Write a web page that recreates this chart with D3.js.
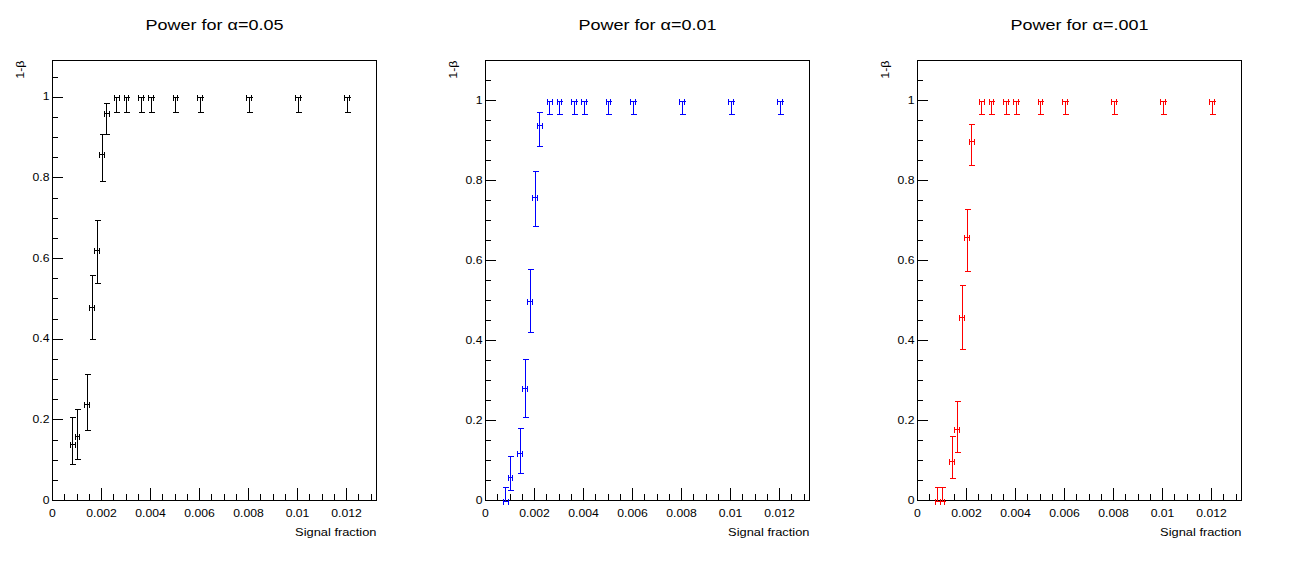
<!DOCTYPE html>
<html><head><meta charset="utf-8">
<script src="https://cdn.jsdelivr.net/npm/d3@7"></script>
<style>
body{margin:0;background:#fff;}
svg{display:block;}
text{font-family:'Liberation Sans',Arial,Helvetica,sans-serif;fill:#000;}
</style></head><body>
<svg id="chart" width="1297" height="563"></svg>
<script>
// ---- data ----
const xValues = [0.0008, 0.001, 0.0014, 0.0016, 0.0018, 0.002, 0.0022, 0.0026, 0.003, 0.0036, 0.004, 0.005, 0.006, 0.008, 0.01, 0.012];
const xError = 0.0001;

const power05   = [0.14, 0.16, 0.24, 0.48, 0.62, 0.86, 0.96, 1, 1, 1, 1, 1, 1, 1, 1, 1];
const power05Hi = [0.066, 0.068, 0.074, 0.078, 0.075, 0.048, 0.025, 0, 0, 0, 0, 0, 0, 0, 0, 0];
const power05Lo = [0.050, 0.056, 0.064, 0.080, 0.081, 0.068, 0.052, 0.037, 0.037, 0.037, 0.037, 0.037, 0.037, 0.037, 0.037, 0.037];

const power01   = [0, 0.06, 0.12, 0.28, 0.50, 0.76, 0.94, 1, 1, 1, 1, 1, 1, 1, 1, 1];
const power01Hi = [0.034, 0.052, 0.062, 0.074, 0.078, 0.063, 0.032, 0, 0, 0, 0, 0, 0, 0, 0, 0];
const power01Lo = [0, 0.034, 0.050, 0.070, 0.079, 0.074, 0.054, 0.034, 0.034, 0.034, 0.034, 0.034, 0.034, 0.034, 0.034, 0.034];

const power001   = [0, 0, 0.10, 0.18, 0.46, 0.66, 0.90, 1, 1, 1, 1, 1, 1, 1, 1, 1];
const power001Hi = [0.033, 0.033, 0.061, 0.069, 0.080, 0.070, 0.0425, 0, 0, 0, 0, 0, 0, 0, 0, 0];
const power001Lo = [0, 0, 0.045, 0.058, 0.080, 0.085, 0.062, 0.034, 0.034, 0.034, 0.034, 0.034, 0.034, 0.034, 0.034, 0.034];

const titles = ["Power for \u03b1=0.05", "Power for \u03b1=0.01", "Power for \u03b1=.001"];
const colors = ["#000000", "#0000ff", "#ff0000"];
const yMaxes = [1.091, 1.1, 1.1];
const xMax = 0.013224;
const xTickLabels = [0, 0.002, 0.004, 0.006, 0.008, 0.01, 0.012];
const yTickLabels = [0, 0.2, 0.4, 0.6, 0.8, 1];
const xTitle = "Signal fraction";
const yTitle = "1-\u03b2";

// ---- layout ----
const panelLeft = [52.5, 485.5, 917.5];
const frameW = 324, frameTop = 60.5, frameBottom = 500.5;
const sx = 1.22; // horizontal text stretch

const panels = [
  {y: power05, hi: power05Hi, lo: power05Lo},
  {y: power01, hi: power01Hi, lo: power01Lo},
  {y: power001, hi: power001Hi, lo: power001Lo}
];

const svg = d3.select("#chart");
const fmt = d => d === 0 ? "0" : String(+d.toFixed(4));

panels.forEach((p, i) => {
  const L = panelLeft[i], R = L + frameW;
  const x = d3.scaleLinear().domain([0, xMax]).range([L, R]);
  const y = d3.scaleLinear().domain([0, yMaxes[i]]).range([frameBottom, frameTop]);
  const g = svg.append("g");

  // minor x ticks
  const xMinor = d3.range(0, xMax, 0.0005);
  g.append("g").attr("transform", `translate(0,${frameBottom})`)
    .call(d3.axisBottom(x).offset(0).tickValues(xMinor).tickSizeInner(-6.5).tickSizeOuter(0).tickFormat(""))
    .call(a => a.select(".domain").remove());
  // major x ticks
  g.append("g").attr("transform", `translate(0,${frameBottom})`)
    .call(d3.axisBottom(x).offset(0).tickValues(xTickLabels).tickSizeInner(-13).tickSizeOuter(0).tickPadding(9.8).tickFormat(fmt))
    .call(a => a.select(".domain").remove())
    .call(a => a.selectAll("text").attr("font-size", 10).attr("font-family", null)
          .attr("transform", `scale(${sx},1)`).attr("x", 0));

  // minor y ticks
  const yMinor = d3.range(0.05, yMaxes[i], 0.05);
  g.append("g").attr("transform", `translate(${L},0)`)
    .call(d3.axisLeft(y).offset(0).tickValues(yMinor).tickSizeInner(-5).tickSizeOuter(0).tickFormat(""))
    .call(a => a.select(".domain").remove());
  g.append("g").attr("transform", `translate(${L},0)`)
    .call(d3.axisLeft(y).offset(0).tickValues(yTickLabels).tickSizeInner(-10).tickSizeOuter(0).tickPadding(3).tickFormat(fmt))
    .call(a => a.select(".domain").remove())
    .call(a => a.selectAll("text").attr("font-size", 10).attr("font-family", null)
          .attr("x", -3 / sx).attr("transform", `scale(${sx},1)`));

  g.selectAll(".tick line").attr("stroke", "#000").attr("shape-rendering", "crispEdges");

  // frame
  g.append("rect").attr("x", L).attr("y", frameTop).attr("width", frameW).attr("height", frameBottom - frameTop)
    .attr("fill", "none").attr("stroke", "#000").attr("shape-rendering", "crispEdges");

  // title
  g.append("text").attr("transform", `translate(${(L + R) / 2},30) scale(1.2,1)`)
    .attr("text-anchor", "middle").attr("font-size", 15).text(titles[i]);
  // x title
  g.append("text").attr("transform", `translate(${R},536) scale(1.26,1)`)
    .attr("text-anchor", "end").attr("font-size", 10.2).text(xTitle);
  // y title
  g.append("text").attr("transform", `translate(${L - 28.5},${frameTop}) rotate(-90) scale(${sx},1)`)
    .attr("text-anchor", "end").attr("font-size", 10.2).text(yTitle);

  // error bars
  const col = colors[i];
  const cap = 2.5;
  const pts = g.append("g").attr("stroke", col).attr("stroke-width", 1).attr("fill", "none")
    .attr("shape-rendering", "crispEdges");
  xValues.forEach((xv, k) => {
    const cx = Math.round(x(xv)) + 0.5;
    const cy = Math.round(y(p.y[k])) + 0.5;
    const yt = Math.round(y(p.y[k] + p.hi[k])) + 0.5;
    const yb = Math.round(y(p.y[k] - p.lo[k])) + 0.5;
    const xl = Math.round(x(xv - xError)) + 0.5;
    const xr = Math.round(x(xv + xError)) + 0.5;
    const e = pts.append("g");
    e.append("line").attr("x1", cx).attr("x2", cx).attr("y1", yt).attr("y2", yb);
    e.append("line").attr("x1", cx - cap).attr("x2", cx + cap + 1).attr("y1", yt).attr("y2", yt);
    e.append("line").attr("x1", cx - cap).attr("x2", cx + cap + 1).attr("y1", yb).attr("y2", yb);
    e.append("line").attr("x1", xl).attr("x2", xr).attr("y1", cy).attr("y2", cy);
    e.append("line").attr("x1", xl).attr("x2", xl).attr("y1", cy - cap).attr("y2", cy + cap + 1);
    e.append("line").attr("x1", xr).attr("x2", xr).attr("y1", cy - cap).attr("y2", cy + cap + 1);
  });
});
</script>
</body></html>
